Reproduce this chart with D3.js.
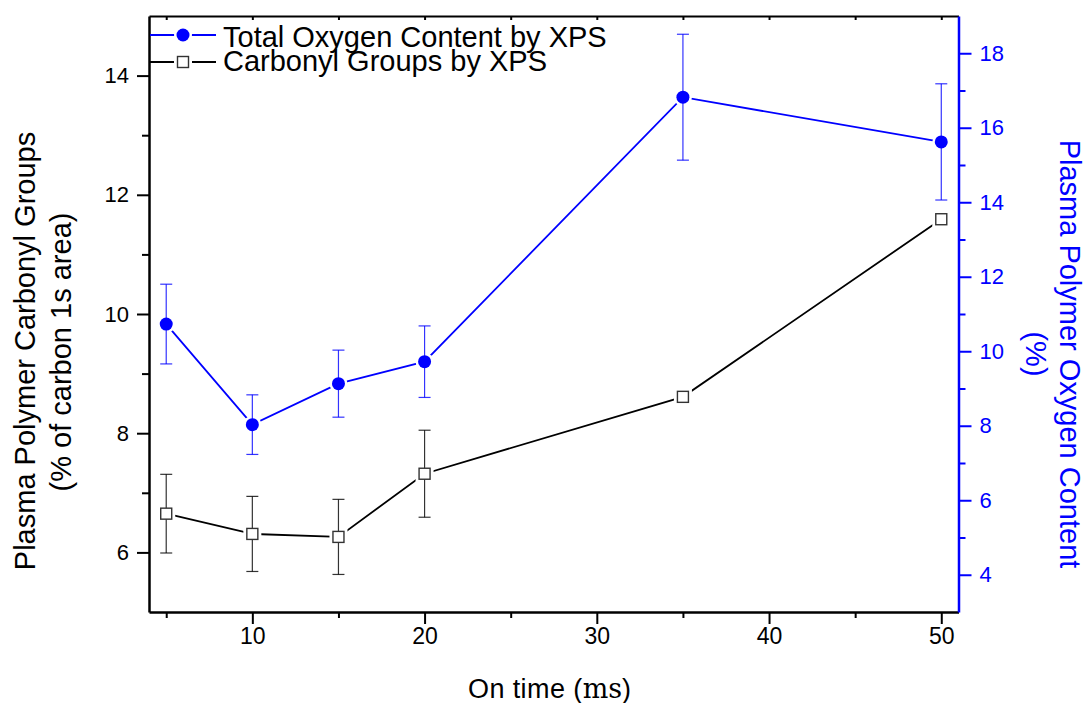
<!DOCTYPE html>
<html>
<head>
<meta charset="utf-8">
<script src="https://cdn.jsdelivr.net/npm/d3@7"></script>
<style>
  body { margin: 0; background: #fff; }
  text { font-family: "Liberation Sans", Arial, sans-serif; }
</style>
</head>
<body>
<div id="chart"></div>
<script>
// data
var onTime = [5, 10, 15, 20, 35, 50];
var carbonyl = [6.65, 6.31, 6.26, 7.32, 8.61, 11.59];
var carbonylErr = [0.66, 0.63, 0.63, 0.73, null, null];
var oxygen = [10.73, 8.03, 9.13, 9.72, 16.82, 15.62];
var oxygenErr = [1.07, 0.80, 0.90, 0.96, 1.69, 1.56];

var xMajor = [10, 20, 30, 40, 50], xMinor = [5, 15, 25, 35, 45];
var leftMajor = [6, 8, 10, 12, 14], leftMinor = [7, 9, 11, 13];
var rightMajor = [4, 6, 8, 10, 12, 14, 16, 18], rightMinor = [5, 7, 9, 11, 13, 15, 17];

var legendNames = ["Total Oxygen Content by XPS", "Carbonyl Groups by XPS"];

var blue = "#0000ff";
var W = 1087, H = 703;
var plot = {left: 149, right: 958.5, top: 16, bottom: 612};

var x = d3.scaleLinear().domain([4, 51]).range([plot.left, plot.right]);
var yL = d3.scaleLinear().domain([5, 15]).range([plot.bottom, plot.top]);
var yR = d3.scaleLinear().domain([3, 19]).range([plot.bottom, plot.top]);

var svg = d3.select("#chart").append("svg")
  .attr("width", W).attr("height", H);

// axes
function styleAxis(g, color, width) {
  g.select(".domain").attr("stroke", color).attr("stroke-width", width);
  g.selectAll(".tick line").attr("stroke", color).attr("stroke-width", 2);
  g.selectAll("text").attr("fill", color).style("font-size", "22px");
}

var gx = svg.append("g").attr("transform", "translate(0," + plot.bottom + ")")
  .call(d3.axisBottom(x).tickValues(xMajor).tickSize(12).tickPadding(4).tickSizeOuter(0));
styleAxis(gx, "#000", 2.5);
gx.selectAll("text").style("font-size", "23px");
svg.append("g").attr("transform", "translate(0," + plot.bottom + ")")
  .call(d3.axisBottom(x).tickValues(xMinor).tickSize(6).tickFormat("").tickSizeOuter(0))
  .call(function(g) { g.select(".domain").remove(); g.selectAll("line").attr("stroke-width", 2); });

// top frame with small inward ticks
var gt = svg.append("g").attr("transform", "translate(0," + plot.top + ")")
  .call(d3.axisTop(x).tickValues(xMajor.concat(xMinor)).tickSize(-4).tickFormat("").tickSizeOuter(0));
styleAxis(gt, "#000", 2);

var gl = svg.append("g").attr("transform", "translate(" + plot.left + ",0)")
  .call(d3.axisLeft(yL).tickValues(leftMajor).tickSize(12).tickPadding(8).tickSizeOuter(0));
styleAxis(gl, "#000", 2.5);
svg.append("g").attr("transform", "translate(" + plot.left + ",0)")
  .call(d3.axisLeft(yL).tickValues(leftMinor).tickSize(7).tickFormat("").tickSizeOuter(0))
  .call(function(g) { g.select(".domain").remove(); g.selectAll("line").attr("stroke-width", 2); });

var gr = svg.append("g").attr("transform", "translate(" + plot.right + ",0)")
  .call(d3.axisRight(yR).tickValues(rightMajor).tickSize(13).tickPadding(8).tickSizeOuter(0));
styleAxis(gr, blue, 2.5);
svg.append("g").attr("transform", "translate(" + plot.right + ",0)")
  .call(d3.axisRight(yR).tickValues(rightMinor).tickSize(7).tickFormat("").tickSizeOuter(0))
  .call(function(g) { g.select(".domain").remove(); g.selectAll("line").attr("stroke", blue).attr("stroke-width", 2); });

// axis titles
var xt = svg.append("text").attr("x", 468).attr("y", 698)
  .style("font-size", "27px").style("letter-spacing", "0.4px");
xt.append("tspan").text("On time (");
xt.append("tspan").style("font-family", "'DejaVu Serif', 'Liberation Serif', serif")
  .style("letter-spacing", "0px").text("ms");
xt.append("tspan").text(")");

svg.append("text").attr("transform", "translate(35,351) rotate(-90)")
  .attr("text-anchor", "middle").style("font-size", "29px")
  .text("Plasma Polymer Carbonyl Groups");
svg.append("text").attr("transform", "translate(71,352) rotate(-90)")
  .attr("text-anchor", "middle").style("font-size", "29px")
  .text("(% of carbon 1s area)");

svg.append("text").attr("transform", "translate(1060,354) rotate(90)")
  .attr("text-anchor", "middle").style("font-size", "29px").attr("fill", blue)
  .text("Plasma Polymer Oxygen Content");
svg.append("text").attr("transform", "translate(1026,354) rotate(90)")
  .attr("text-anchor", "middle").style("font-size", "29px").attr("fill", blue)
  .text("(%)");

// series
var series = [
  {vals: oxygen, err: oxygenErr, y: yR, color: blue, shape: "circle"},
  {vals: carbonyl, err: carbonylErr, y: yL, color: "#000", shape: "square"}
];

series.forEach(function(s) {
  var pts = onTime.map(function(t, i) { return {t: t, v: s.vals[i], e: s.err[i]}; });
  var line = d3.line().x(function(d) { return x(d.t); }).y(function(d) { return s.y(d.v); });
  svg.append("path").datum(pts).attr("d", line)
    .attr("fill", "none").attr("stroke", s.color).attr("stroke-width", 1.8);

  // white halo so lines stop short of markers
  drawMarker(svg, pts, s, true);

  var eb = svg.append("g").attr("stroke", s.color).attr("stroke-width", 1.2)
    .attr("stroke-opacity", 0.8);
  pts.filter(function(d) { return d.e != null; }).forEach(function(d) {
    var cx = x(d.t), y1 = s.y(d.v + d.e), y2 = s.y(d.v - d.e);
    eb.append("line").attr("x1", cx).attr("x2", cx).attr("y1", y1).attr("y2", y2);
    eb.append("line").attr("x1", cx - 6).attr("x2", cx + 6).attr("y1", y1).attr("y2", y1);
    eb.append("line").attr("x1", cx - 6).attr("x2", cx + 6).attr("y1", y2).attr("y2", y2);
  });

  drawMarker(svg, pts, s, false);
});

function drawMarker(parent, pts, s, halo) {
  pts.forEach(function(d) {
    var cx = x(d.t), cy = s.y(d.v);
    addShape(parent, s.shape, cx, cy, s.color, halo);
  });
}

function addShape(parent, shape, cx, cy, color, halo) {
  if (shape === "circle") {
    parent.append("circle").attr("cx", cx).attr("cy", cy)
      .attr("r", halo ? 9 : 6.5)
      .attr("fill", halo ? "#fff" : color);
  } else {
    var h = halo ? 9 : 5.5;
    parent.append("rect").attr("x", cx - h).attr("y", cy - h)
      .attr("width", 2 * h).attr("height", 2 * h)
      .attr("fill", "#fff")
      .attr("stroke", halo ? "none" : "#333").attr("stroke-width", 1.4);
  }
}

// legend (rows sit tight, as in the original)
var lg = svg.append("g");
legendNames.forEach(function(name, i) {
  var s = series[i];
  var ly = 35 + i * 27;
  lg.append("line").attr("x1", 150).attr("x2", 216).attr("y1", ly).attr("y2", ly)
    .attr("stroke", s.color).attr("stroke-width", 1.8);
  addShape(lg, s.shape, 183, ly, s.color, true);
  addShape(lg, s.shape, 183, ly, s.color, false);
  lg.append("text").attr("x", 223).attr("y", i === 0 ? 46.5 : 70.5).style("font-size", "29px")
    .text(name);
});
</script>
</body>
</html>
